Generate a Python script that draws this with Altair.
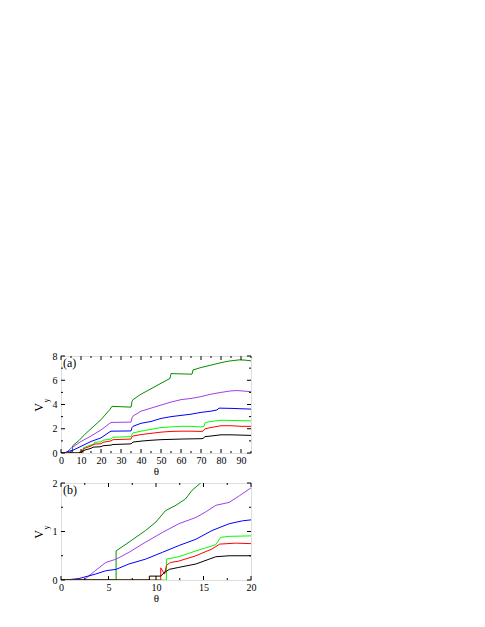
import altair as alt
import pandas as pd

FONT = "Liberation Serif"

# ---------------- data, panel (a) ----------------
a_dg_x = [0, 5.8, 5.8, 9, 12, 15, 20, 24.5, 25.5, 35, 35.5, 36, 40, 45, 50, 54.5, 55, 65.5, 66, 70, 75, 80, 84, 89, 92, 95]
a_dg_y = [0, 0, 0.6, 1.03, 1.55, 2.0, 2.75, 3.6, 3.85, 3.78, 4.25, 4.4, 4.85, 5.3, 5.75, 6.15, 6.55, 6.5, 6.85, 7.05, 7.25, 7.45, 7.58, 7.68, 7.66, 7.6]

a_pu_x = [0, 2.4, 5, 10, 15, 20, 24, 25, 35, 35.5, 36, 40, 45, 50, 55, 60, 65, 70, 75, 80, 85, 88, 92, 95]
a_pu_y = [0, 0, 0.4, 0.95, 1.4, 1.9, 2.4, 2.52, 2.55, 2.9, 3.05, 3.45, 3.7, 3.95, 4.2, 4.4, 4.5, 4.65, 4.85, 5.0, 5.12, 5.15, 5.1, 5.05]

a_bl_x = [0, 2, 4, 6, 10, 15, 20, 24, 25, 35, 35.5, 36, 40, 45, 50, 55, 60, 65, 70, 75, 78, 79, 85, 95]
a_bl_y = [0, 0.03, 0.15, 0.23, 0.55, 0.95, 1.25, 1.7, 1.8, 1.82, 2.1, 2.2, 2.45, 2.6, 2.85, 3.0, 3.1, 3.2, 3.35, 3.45, 3.55, 3.7, 3.68, 3.62]

a_lg_x = [0, 11, 11.1, 15, 16.6, 16.8, 20, 21, 25, 26, 35, 35.5, 36, 40, 45, 50, 55, 60, 65, 70, 71.5, 72, 75, 80, 95]
a_lg_y = [0, 0, 0.43, 0.66, 0.75, 0.88, 0.92, 1.05, 1.15, 1.3, 1.35, 1.55, 1.65, 1.8, 1.95, 2.1, 2.15, 2.2, 2.2, 2.15, 2.2, 2.5, 2.6, 2.7, 2.65]

a_rd_x = [0, 10.5, 10.5, 10.9, 11.2, 15, 17, 20, 21, 25, 26, 35, 35.5, 36, 40, 45, 50, 55, 60, 65, 70, 71, 72, 75, 80, 85, 90, 95]
a_rd_y = [0, 0, 0.25, 0.12, 0.35, 0.58, 0.74, 0.76, 0.88, 1.0, 1.1, 1.15, 1.35, 1.4, 1.52, 1.62, 1.72, 1.78, 1.8, 1.8, 1.78, 1.8, 2.0, 2.1, 2.25, 2.25, 2.2, 2.2]

a_bk_x = [0, 9.3, 9.3, 10.5, 10.9, 12, 15, 16, 18, 20, 21, 25, 26, 35, 36, 40, 45, 50, 60, 70, 71, 72, 75, 80, 85, 95]
a_bk_y = [0, 0, 0.08, 0.08, 0.15, 0.25, 0.38, 0.48, 0.5, 0.52, 0.6, 0.65, 0.7, 0.75, 0.9, 0.98, 1.05, 1.1, 1.15, 1.18, 1.2, 1.35, 1.4, 1.5, 1.5, 1.45]

# ---------------- data, panel (b) ----------------
b_dg_x = [0, 5.8, 5.8, 7.15, 8.9, 9.96, 11.0, 12.1, 13.1, 13.8, 14.7, 15.2]
b_dg_y = [0, 0, 0.6, 0.78, 1.02, 1.19, 1.43, 1.54, 1.67, 1.85, 2.0, 2.08]

b_pu_x = [0, 2.4, 3.6, 4.7, 5.8, 7.15, 8.9, 10.67, 12.4, 14.2, 15.2, 16.3, 17.7, 18.8, 20]
b_pu_y = [0, 0, 0.19, 0.36, 0.43, 0.57, 0.78, 0.98, 1.16, 1.29, 1.4, 1.54, 1.6, 1.74, 1.9]

b_bl_x = [0, 0.5, 1.9, 3.6, 4.7, 5.8, 7.15, 8.9, 10.67, 12.4, 14.2, 15.9, 17.7, 19.1, 20]
b_bl_y = [0, 0, 0.03, 0.12, 0.19, 0.22, 0.33, 0.43, 0.57, 0.71, 0.84, 1.02, 1.16, 1.22, 1.24]

b_lg_x = [0, 11.1, 11.1, 12.4, 14.2, 15.2, 16.3, 16.8, 17.7, 20]
b_lg_y = [0, 0, 0.43, 0.48, 0.6, 0.66, 0.73, 0.88, 0.9, 0.91]

b_rd_x = [0, 10.5, 10.5, 10.9, 11.1, 11.5, 12.4, 14.2, 15.9, 16.7, 18.4, 20]
b_rd_y = [0, 0, 0.25, 0.12, 0.3, 0.36, 0.39, 0.5, 0.64, 0.74, 0.76, 0.75]

b_bk_x = [0, 9.3, 9.3, 10.5, 10.85, 11.4, 12.4, 14.2, 15.6, 16.3, 17.7, 20]
b_bk_y = [0, 0, 0.08, 0.08, 0.15, 0.22, 0.26, 0.33, 0.43, 0.48, 0.5, 0.5]

COLORS = ["#009000", "#a040e8", "#0000ff", "#00ff00", "#ff0000", "#000000"]

a_curves = [(a_dg_x, a_dg_y), (a_pu_x, a_pu_y), (a_bl_x, a_bl_y),
            (a_lg_x, a_lg_y), (a_rd_x, a_rd_y), (a_bk_x, a_bk_y)]
b_curves = [(b_dg_x, b_dg_y), (b_pu_x, b_pu_y), (b_bl_x, b_bl_y),
            (b_lg_x, b_lg_y), (b_rd_x, b_rd_y), (b_bk_x, b_bk_y)]

# tick values
a_x_major = [0, 10, 20, 30, 40, 50, 60, 70, 80, 90]
a_x_minor = [5, 15, 25, 35, 45, 55, 65, 75, 85, 95]
a_y_major = [0, 2, 4, 6, 8]
a_y_minor = [1, 3, 5, 7]
b_x_major = [0, 5, 10, 15, 20]
b_x_minor = [2.5, 7.5, 12.5, 17.5]
b_y_major = [0, 1, 2]
b_y_minor = [0.5, 1.5]

W, H = 190, 97
MAJ, MIN = 4, 2


def panel(curves, xdom, ydom, xmaj, xmin, ymaj, ymin, label):
    xs = alt.Scale(domain=xdom, nice=False, zero=False)
    ys = alt.Scale(domain=ydom, nice=False, zero=False)
    xaxis = alt.Axis(values=xmaj, title="θ", ticks=False, tickSize=0, domain=False,
                     grid=False, labelFont=FONT, labelFontSize=10, labelColor="black",
                     titleFont=FONT, titleFontSize=11, titleFontWeight="normal",
                     titleColor="black", labelPadding=2, titlePadding=0,
                     labelFlush=False, labelOverlap=False, format=".0f")
    yaxis = alt.Axis(values=ymaj, title=None, ticks=False, tickSize=0, domain=False,
                     grid=False, labelFont=FONT, labelFontSize=10, labelColor="black",
                     labelPadding=4, labelOverlap=False, labelFlush=False, format=".0f")
    layers = []
    for i, (xv, yv) in enumerate(curves):
        df = pd.DataFrame({"x": xv, "y": yv, "i": list(range(len(xv)))})
        layers.append(alt.Chart(df).mark_line(strokeWidth=1, clip=True,
                                              color=COLORS[i]).encode(
            x=alt.X("x:Q", scale=xs, axis=xaxis),
            y=alt.Y("y:Q", scale=ys, axis=yaxis),
            order="i:Q",
        ))

    def xt(vals, length):
        d = pd.DataFrame({"x": vals})
        bot = alt.Chart(d).mark_rule(color="black", strokeWidth=1).encode(
            x=alt.X("x:Q", scale=xs, axis=xaxis), y=alt.value(H), y2=alt.value(H - length))
        top = alt.Chart(d).mark_rule(color="black", strokeWidth=1).encode(
            x=alt.X("x:Q", scale=xs, axis=xaxis), y=alt.value(0), y2=alt.value(length))
        return [bot, top]

    def yt(vals, length):
        d = pd.DataFrame({"y": vals})
        left = alt.Chart(d).mark_rule(color="black", strokeWidth=1).encode(
            y=alt.Y("y:Q", scale=ys, axis=yaxis), x=alt.value(0), x2=alt.value(length))
        right = alt.Chart(d).mark_rule(color="black", strokeWidth=1).encode(
            y=alt.Y("y:Q", scale=ys, axis=yaxis), x=alt.value(W), x2=alt.value(W - length))
        return [left, right]

    layers += xt(xmaj, MAJ) + xt(xmin, MIN) + yt(ymaj, MAJ) + yt(ymin, MIN)

    one = pd.DataFrame({"k": [0]})
    layers.append(alt.Chart(one).mark_text(text=label, font=FONT, fontSize=12,
                                           align="left", baseline="top", color="black").encode(
        x=alt.value(2), y=alt.value(2)))
    layers.append(alt.Chart(one).mark_text(text="V", font=FONT, fontSize=12, angle=270,
                                           align="center", baseline="middle", color="black").encode(
        x=alt.value(-22), y=alt.value(H / 2 + 3)))
    layers.append(alt.Chart(one).mark_text(text="y", font=FONT, fontSize=8, angle=270,
                                           align="center", baseline="middle", color="black").encode(
        x=alt.value(-14), y=alt.value(H / 2 - 4)))
    return alt.layer(*layers).properties(width=W, height=H)


pa = panel(a_curves, [0, 95], [0, 8], a_x_major, a_x_minor, a_y_major, a_y_minor, "(a)")
pb = panel(b_curves, [0, 20], [0, 2], b_x_major, b_x_minor, b_y_major, b_y_minor, "(b)")

chart = alt.vconcat(pa, pb, spacing=0).properties(
    padding={"left": 24, "top": 342, "right": 5, "bottom": 5}
).configure_view(stroke="black", strokeWidth=1).configure_axis(
    labelFont=FONT, titleFont=FONT
).configure(background="white")

chart.save("out.html", embed_options={"renderer": "svg", "actions": False})
